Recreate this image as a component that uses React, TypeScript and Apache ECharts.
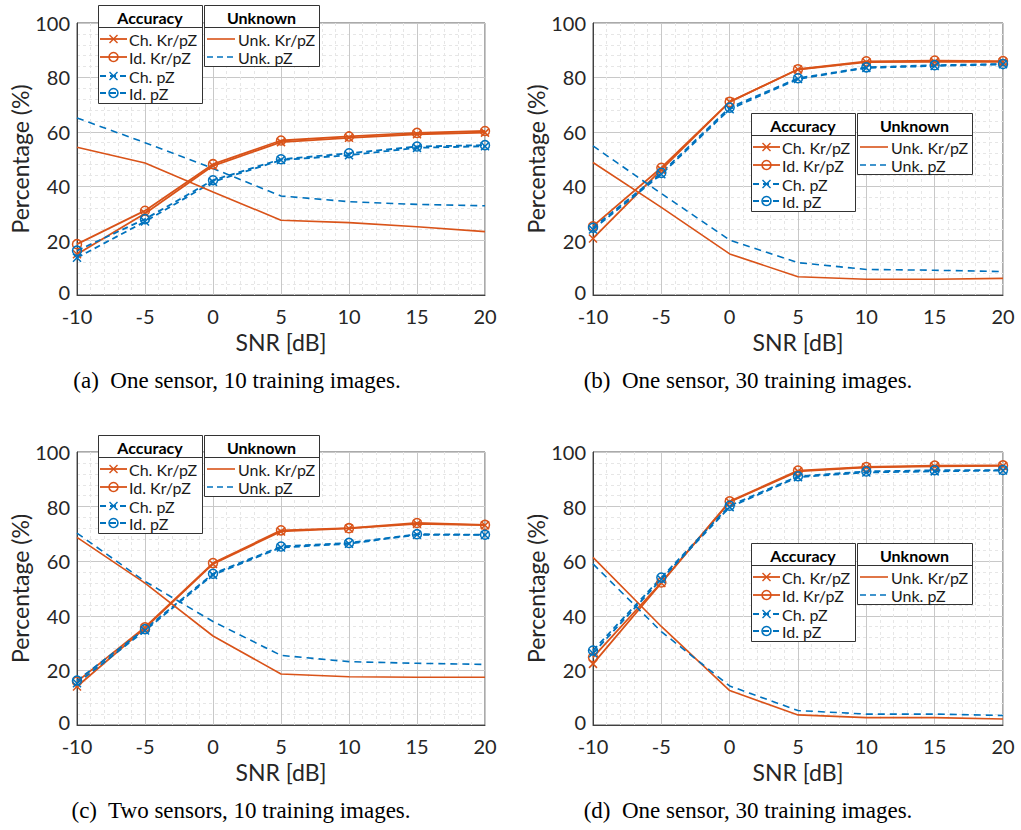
import React, { useEffect, useRef } from "react";
import * as echarts from "echarts";

const snr = [-10, -5, 0, 5, 10, 15, 20];
const xTicks = [-10, -5, 0, 5, 10, 15, 20];
const yTicks = [0, 20, 40, 60, 80, 100];

// (a) One sensor, 10 training images
const aChKr = [15.0, 30.0, 47.5, 56.2, 57.8, 59.1, 59.7];
const aIdKr = [18.7, 31.0, 48.1, 56.8, 58.3, 59.6, 60.3];
const aChPz = [13.7, 27.0, 41.6, 49.6, 51.4, 54.1, 54.7];
const aIdPz = [16.3, 27.9, 42.2, 49.9, 52.1, 54.6, 55.1];
const aUnkKr = [54.3, 48.5, 37.9, 27.5, 26.6, 25.1, 23.3];
const aUnkPz = [65.1, 56.0, 46.5, 36.4, 34.3, 33.3, 32.8];

// (b) One sensor, 30 training images
const bChKr = [20.8, 46.1, 71.0, 82.9, 85.6, 85.7, 85.7];
const bIdKr = [25.3, 46.8, 71.0, 83.0, 85.9, 86.2, 86.0];
const bChPz = [24.1, 44.4, 68.3, 79.4, 83.5, 84.2, 84.8];
const bIdPz = [24.7, 44.9, 68.9, 79.7, 83.7, 84.5, 84.9];
const bUnkKr = [48.7, 32.2, 15.1, 6.7, 5.8, 5.8, 6.1];
const bUnkPz = [54.8, 37.3, 20.2, 11.9, 9.4, 9.1, 8.6];

// (c) Two sensors, 10 training images
const cChKr = [14.1, 35.5, 59.0, 70.9, 72.0, 73.7, 73.2];
const cIdKr = [15.9, 35.8, 59.3, 71.3, 72.1, 74.0, 73.3];
const cChPz = [15.3, 34.6, 55.0, 65.0, 66.4, 69.7, 69.6];
const cIdPz = [16.3, 35.1, 55.4, 65.4, 66.7, 69.9, 69.7];
const cUnkKr = [68.7, 52.0, 32.6, 18.7, 17.7, 17.5, 17.5];
const cUnkPz = [70.3, 52.6, 37.9, 25.5, 23.2, 22.6, 22.2];

// (d) One sensor, 30 training images
const dChKr = [22.4, 52.0, 81.7, 92.9, 94.4, 94.7, 94.9];
const dIdKr = [24.8, 52.2, 81.9, 93.2, 94.5, 95.0, 95.1];
const dChPz = [26.3, 53.4, 79.8, 90.8, 92.5, 92.9, 93.2];
const dIdPz = [27.3, 54.0, 80.3, 91.1, 92.9, 93.3, 93.4];
const dUnkKr = [61.4, 36.1, 12.6, 3.7, 2.7, 2.7, 2.2];
const dUnkPz = [59.0, 34.2, 14.3, 5.3, 4.0, 4.0, 3.5];

const captions = [
  "(a)  One sensor, 10 training images.",
  "(b)  One sensor, 30 training images.",
  "(c)  Two sensors, 10 training images.",
  "(d)  One sensor, 30 training images.",
];

const accLabels = ["Ch. Kr/pZ", "Id. Kr/pZ", "Ch. pZ", "Id. pZ"];
const unkLabels = ["Unk. Kr/pZ", "Unk. pZ"];
const xName = "SNR [dB]";
const yName = "Percentage (%)";

const ORANGE = "#D95319";
const BLUE = "#0072BD";
const FONT = "Lato";
const XPATH = "path://M0,0L10,10M10,0L0,10";

const panels = [
  { acc: [aChKr, aIdKr, aChPz, aIdPz], unk: [aUnkKr, aUnkPz] },
  { acc: [bChKr, bIdKr, bChPz, bIdPz], unk: [bUnkKr, bUnkPz] },
  { acc: [cChKr, cIdKr, cChPz, cIdPz], unk: [cUnkKr, cUnkPz] },
  { acc: [dChKr, dIdKr, dChPz, dIdPz], unk: [dUnkKr, dUnkPz] },
];

const grids = [
  { left: 77, top: 23, width: 408, height: 272 },
  { left: 593, top: 23, width: 410, height: 272 },
  { left: 77, top: 452, width: 408, height: 273 },
  { left: 593, top: 452, width: 410, height: 273 },
];
const legendPos = [
  [98, 5],
  [751, 113],
  [98, 435],
  [751, 543],
];
const captionPos = [
  [237, 380],
  [748, 380],
  [241, 810],
  [748, 810],
];

const accStyles = [
  { color: ORANGE, marker: "x", dash: "solid" },
  { color: ORANGE, marker: "o", dash: "solid" },
  { color: BLUE, marker: "x", dash: "dashed" },
  { color: BLUE, marker: "o", dash: "dashed" },
];
const unkStyles = [
  { color: ORANGE, dash: "solid" },
  { color: BLUE, dash: "dashed" },
];

function legendGraphics(ox: number, oy: number) {
  const els: any[] = [];
  const stroke = "#333333";
  els.push({
    type: "rect",
    shape: { x: ox + 0.5, y: oy + 0.5, width: 104, height: 98 },
    style: { fill: "#ffffff", stroke, lineWidth: 1 },
    z: 100,
  });
  els.push({
    type: "line",
    shape: { x1: ox, y1: oy + 22.5, x2: ox + 104, y2: oy + 22.5 },
    style: { stroke, lineWidth: 1 },
    z: 101,
  });
  els.push({
    type: "text",
    x: ox + 52,
    y: oy + 12,
    style: { text: "Accuracy", font: `bold 16px ${FONT}`, fill: "#000", align: "center", verticalAlign: "middle" },
    z: 101,
  });
  const rows = [34, 52, 71, 88];
  accLabels.forEach((lab, i) => {
    const st = accStyles[i];
    const y = oy + rows[i];
    els.push({
      type: "line",
      shape: { x1: ox + 2, y1: y, x2: ox + 29, y2: y },
      style: { stroke: st.color, lineWidth: 1.8, lineDash: st.dash === "dashed" ? [6, 4] : null },
      z: 101,
    });
    const cx = ox + 15.5;
    if (st.marker === "o") {
      els.push({
        type: "circle",
        shape: { cx, cy: y, r: 4.5 },
        style: { fill: "none", stroke: st.color, lineWidth: 1.6 },
        z: 102,
      });
    } else {
      els.push({
        type: "line",
        shape: { x1: cx - 4, y1: y - 4, x2: cx + 4, y2: y + 4 },
        style: { stroke: st.color, lineWidth: 1.4 },
        z: 102,
      });
      els.push({
        type: "line",
        shape: { x1: cx - 4, y1: y + 4, x2: cx + 4, y2: y - 4 },
        style: { stroke: st.color, lineWidth: 1.4 },
        z: 102,
      });
    }
    els.push({
      type: "text",
      x: ox + 31,
      y,
      style: { text: lab, font: `16px ${FONT}`, fill: "#1a1a1a", align: "left", verticalAlign: "middle" },
      z: 102,
    });
  });
  const ux = ox + 106;
  els.push({
    type: "rect",
    shape: { x: ux + 0.5, y: oy + 0.5, width: 115, height: 61 },
    style: { fill: "#ffffff", stroke, lineWidth: 1 },
    z: 100,
  });
  els.push({
    type: "line",
    shape: { x1: ux, y1: oy + 22.5, x2: ux + 115, y2: oy + 22.5 },
    style: { stroke, lineWidth: 1 },
    z: 101,
  });
  els.push({
    type: "text",
    x: ux + 57.5,
    y: oy + 12,
    style: { text: "Unknown", font: `bold 16px ${FONT}`, fill: "#000", align: "center", verticalAlign: "middle" },
    z: 101,
  });
  unkLabels.forEach((lab, i) => {
    const st = unkStyles[i];
    const y = oy + rows[i];
    els.push({
      type: "line",
      shape: { x1: ux + 3, y1: y, x2: ux + 31, y2: y },
      style: { stroke: st.color, lineWidth: 1.6, lineDash: st.dash === "dashed" ? [6, 4] : null },
      z: 101,
    });
    els.push({
      type: "text",
      x: ux + 34,
      y,
      style: { text: lab, font: `16px ${FONT}`, fill: "#1a1a1a", align: "left", verticalAlign: "middle" },
      z: 102,
    });
  });
  return els;
}

function buildOption() {
  const grid: any[] = [];
  const xAxis: any[] = [];
  const yAxis: any[] = [];
  const series: any[] = [];
  const graphic: any[] = [];

  panels.forEach((p, gi) => {
    grid.push({ ...grids[gi], show: true, borderColor: "#555555", borderWidth: 1, backgroundColor: "#ffffff" });
    xAxis.push({
      type: "value",
      gridIndex: gi,
      min: xTicks[0],
      max: xTicks[xTicks.length - 1],
      interval: 5,
      name: xName,
      nameLocation: "middle",
      nameGap: 35,
      nameTextStyle: { fontFamily: FONT, fontSize: 23, color: "#262626" },
      axisLine: { show: true, onZero: false, lineStyle: { color: "#404040", width: 1 } },
      axisTick: { show: false },
      axisLabel: { fontFamily: FONT, fontSize: 20, color: "#262626", margin: 11 },
      splitLine: { show: true, lineStyle: { color: "#c8c8c8", width: 1 } },
      minorTick: { show: false, splitNumber: 5 },
      minorSplitLine: { show: true, lineStyle: { color: "#e6e6e6", width: 1, type: [3, 3] } },
    });
    yAxis.push({
      type: "value",
      gridIndex: gi,
      min: yTicks[0],
      max: yTicks[yTicks.length - 1],
      interval: 20,
      name: yName,
      nameLocation: "middle",
      nameGap: 41,
      nameRotate: 90,
      nameTextStyle: { fontFamily: FONT, fontSize: 23, color: "#262626" },
      axisLine: { show: true, onZero: false, lineStyle: { color: "#404040", width: 1 } },
      axisTick: { show: false },
      axisLabel: {
        fontFamily: FONT,
        fontSize: 20,
        color: "#262626",
        margin: 7,
        formatter: (v: number) => (v === 0 ? "{z|0}" : String(v)),
        rich: { z: { fontFamily: FONT, fontSize: 20, color: "#262626", padding: [0, 0, 6, 0] } },
      },
      splitLine: { show: true, lineStyle: { color: "#c8c8c8", width: 1 } },
      minorTick: { show: false, splitNumber: 5 },
      minorSplitLine: { show: true, lineStyle: { color: "#e6e6e6", width: 1, type: [3, 3] } },
    });
    p.acc.forEach((vals, si) => {
      const st = accStyles[si];
      series.push({
        type: "line",
        name: accLabels[si],
        xAxisIndex: gi,
        yAxisIndex: gi,
        data: snr.map((x, k) => [x, vals[k]]),
        symbol: st.marker === "o" ? "circle" : XPATH,
        symbolSize: st.marker === "o" ? 9 : 8,
        showSymbol: true,
        lineStyle: { color: st.color, width: 1.8, type: st.dash === "dashed" ? [6, 4] : "solid" },
        itemStyle: { color: "rgba(0,0,0,0)", borderColor: st.color, borderWidth: 1.5 },
        emphasis: { disabled: true },
        z: 3,
      });
    });
    p.unk.forEach((vals, si) => {
      const st = unkStyles[si];
      series.push({
        type: "line",
        name: unkLabels[si],
        xAxisIndex: gi,
        yAxisIndex: gi,
        data: snr.map((x, k) => [x, vals[k]]),
        symbol: "none",
        lineStyle: { color: st.color, width: 1.6, type: st.dash === "dashed" ? [7, 5] : "solid" },
        emphasis: { disabled: true },
        z: 3,
      });
    });
    graphic.push(...legendGraphics(legendPos[gi][0], legendPos[gi][1]));
    graphic.push({
      type: "text",
      x: captionPos[gi][0],
      y: captionPos[gi][1],
      style: {
        text: captions[gi],
        font: `23px "Liberation Serif"`,
        fill: "#000",
        align: "center",
        verticalAlign: "middle",
      },
    });
  });

  return {
    animation: false,
    backgroundColor: "#ffffff",
    grid,
    xAxis,
    yAxis,
    series,
    graphic,
  };
}

export default function App() {
  const ref = useRef<HTMLDivElement>(null);
  useEffect(() => {
    if (!ref.current) return;
    const chart = echarts.init(ref.current, null, { renderer: "svg" });
    chart.setOption(buildOption() as any);
    return () => chart.dispose();
  }, []);
  return (
    <div
      ref={ref}
      style={{ position: "absolute", left: 0, top: 0, width: 1021, height: 830, background: "#fff" }}
    />
  );
}
